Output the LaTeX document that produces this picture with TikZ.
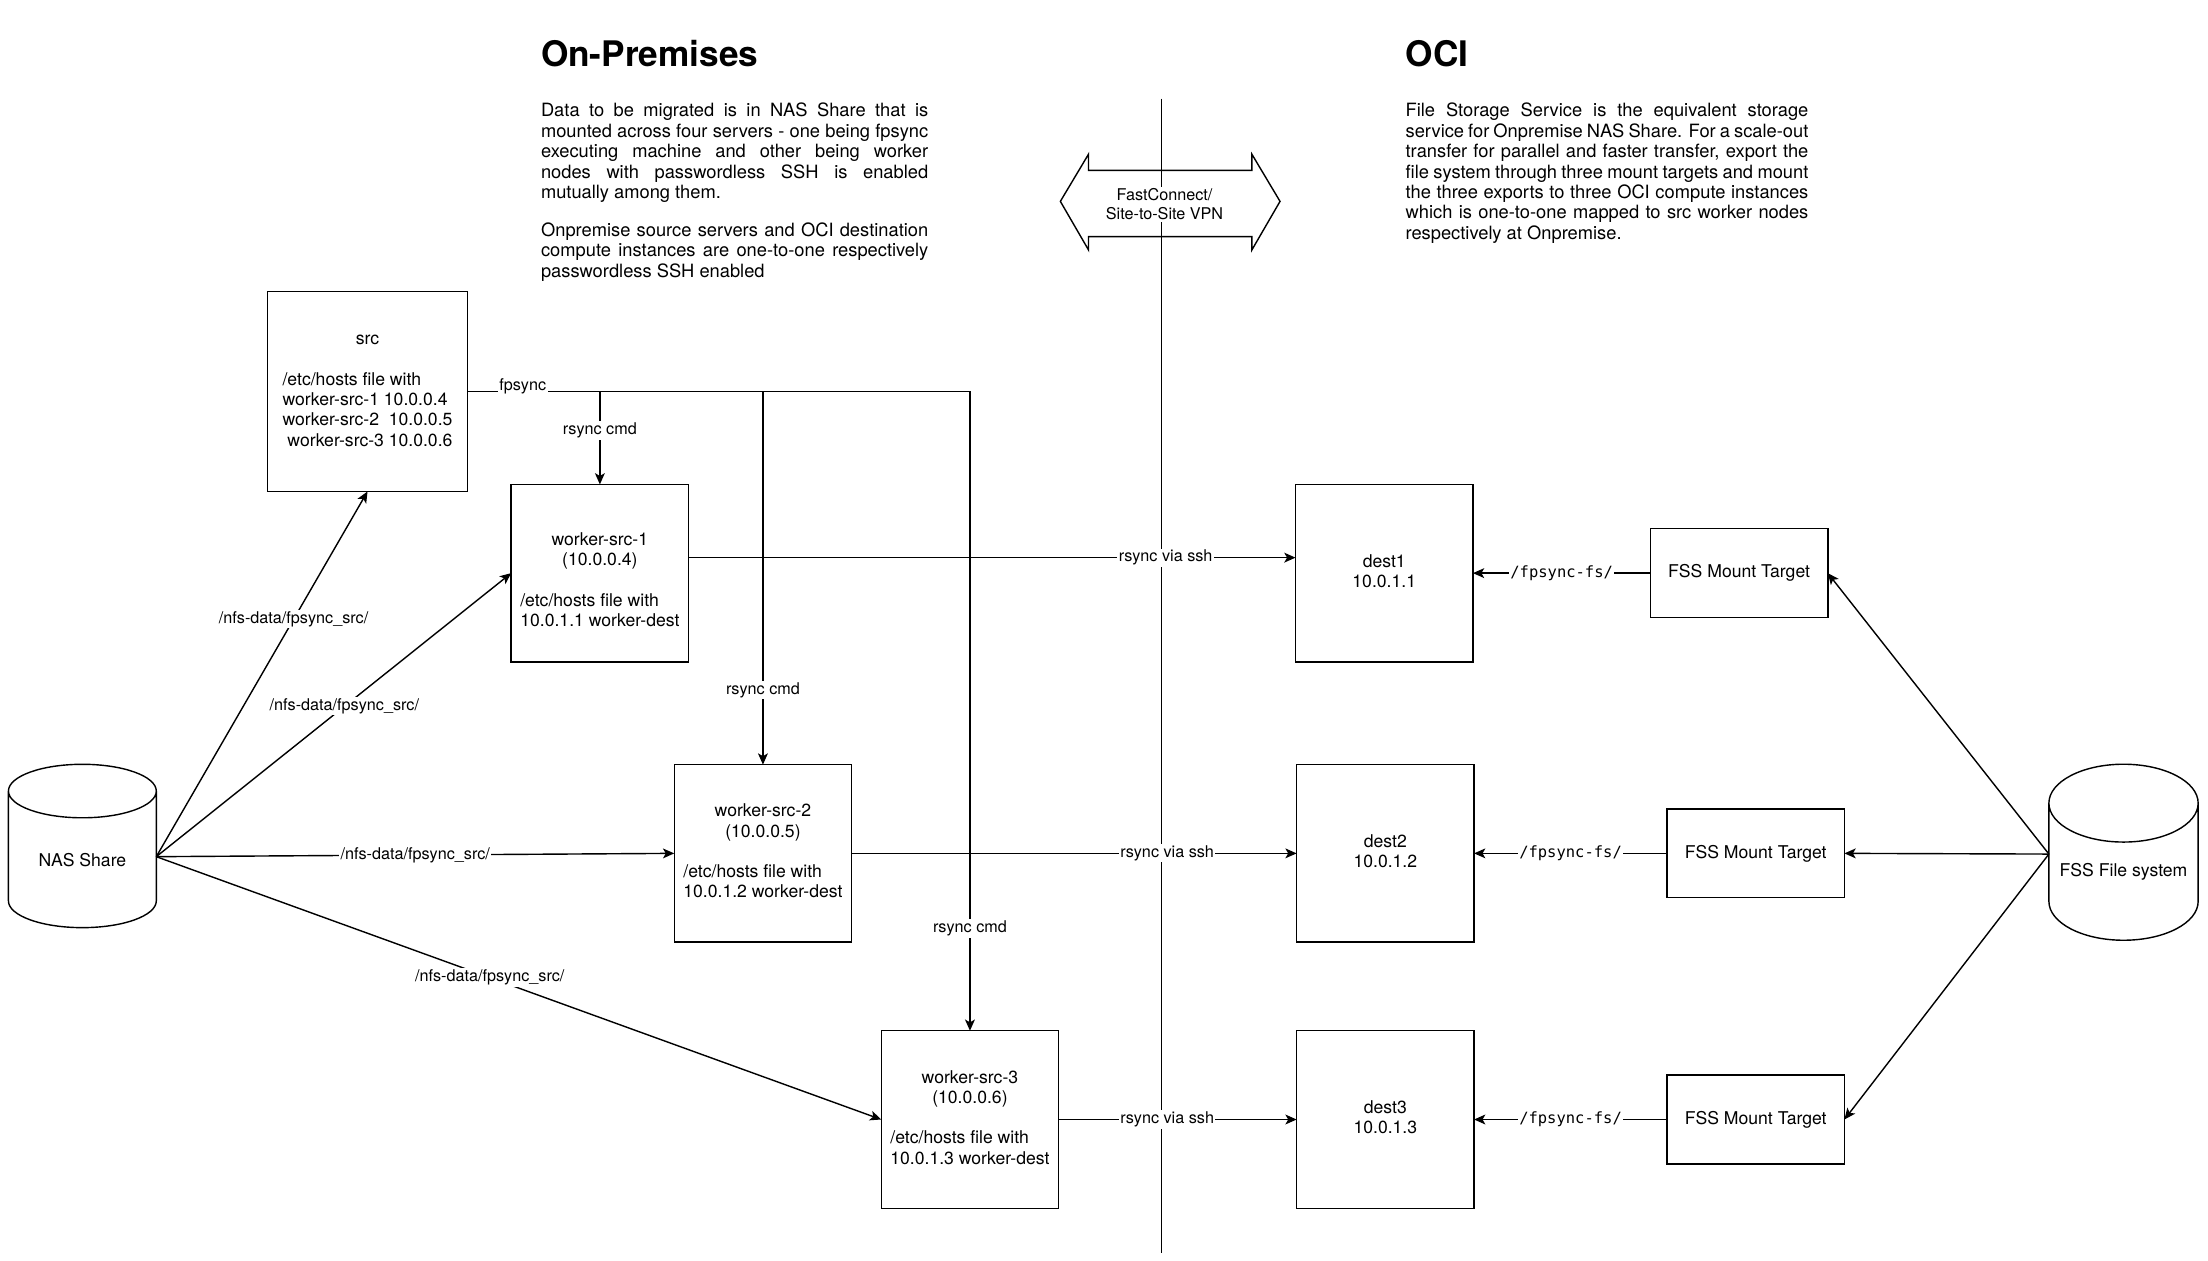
\documentclass[tikz,border=0pt]{standalone}
\usepackage{fontspec}
\setmainfont{TeX Gyre Heros}
\setmonofont{DejaVu Sans Mono}
\usepackage{tikz}
\usetikzlibrary{arrows.meta}
\usetikzlibrary{positioning}
\usetikzlibrary{shapes.geometric}
\tikzset{
    block/.style={
           rectangle,
           draw=black, line width=1pt,
           inner sep=0pt, outer sep=0pt,
           text centered,
           font=\fontsize{12.5}{14.4}\selectfont,
           },
     host/.style={
           block,
           minimum width=126pt,
           minimum height=126pt,
           },
     mount/.style={
           block,
           minimum width=126pt,
           minimum height=63pt,
           },
     store/.style={
           cylinder,
           shape border rotate=90,
           aspect=0.61,
           draw=black, line width=1pt,
           minimum width=105pt,
           minimum height=116pt,
           inner sep=0pt, outer sep=0pt,
           anchor=shape center,
           font=\fontsize{12.5}{14.4}\selectfont,
           },
     frameless/.style={
           fill=white,
           inner sep=1pt,
           font=\fontsize{11.5}{13.8}\selectfont,
           },
     headline/.style={
           anchor=west,
           inner sep=0pt,
           font=\fontsize{25}{29}\selectfont\bfseries,
           },
     note/.style={
           anchor=north west,
           inner sep=0pt,
           align=justify,
           font=\fontsize{13}{14.5}\selectfont,
           },
     link/.style={
           line width=1pt,
           -{Stealth[length=8pt, width=7pt, inset=2pt]},
           },
}

\begin{document}
\begin{tikzpicture}[x=1pt, y=-1pt]
	\useasboundingbox (0,0) rectangle (1568,895);

	%headings
	\node[headline] (hprem) at (384,38) {On-Premises};
	\node[headline] (hoci) at (998,38) {OCI};
	\node[note, text width=275pt] (tprem) at (384,73) {Data to be migrated is in NAS Share that is\linebreak
		mounted across four servers - one being fpsync\linebreak
		executing machine and other being worker\linebreak
		nodes with passwordless SSH is enabled\linebreak
		mutually among them.\par\vspace{12.5pt}
		Onpremise source servers and OCI destination\linebreak
		compute instances are one-to-one respectively\linebreak
		passwordless SSH enabled};
	\node[note, text width=286pt] (toci) at (998,73) {File Storage Service is the equivalent storage\linebreak
		service for Onpremise NAS Share. For a scale-out\linebreak
		transfer for parallel and faster transfer, export the\linebreak
		file system through three mount targets and mount\linebreak
		the three exports to three OCI compute instances\linebreak
		which is one-to-one mapped to src worker nodes\linebreak
		respectively at Onpremise.};

	%divider and link
	\draw[line width=1pt] (825,70) -- (825,890);
	\draw[line width=1pt] (753,143) -- (773,109.5) -- (773,121) -- (889,121) -- (889,109.5)
		-- (909,143) -- (889,177.5) -- (889,168) -- (773,168) -- (773,177.5) -- cycle;
	\node[frameless, align=center, font=\fontsize{11.5}{14}\selectfont] (vpn) at (827,145) {FastConnect/\\Site-to-Site VPN};

	%on-premises column
	\node[store] (nas) at (58.5,600.75) {NAS Share};
	\node[block, minimum width=142pt, minimum height=142pt] (src) at (261,278) {\begin{tabular}{@{}l@{}}
			\multicolumn{1}{@{}c@{}}{src}\\
			\\
			/etc/hosts file with\\
			worker-src-1 10.0.0.4\\
			worker-src-2\ \ 10.0.0.5\\
			\ worker-src-3 10.0.0.6
		\end{tabular}};
	\node[host] (w1) at (426,407) {\begin{tabular}{@{}l@{}}
			\\[-1.5pt]
			\multicolumn{1}{@{}c@{}}{worker-src-1}\\
			\multicolumn{1}{@{}c@{}}{(10.0.0.4)}\\
			\\
			/etc/hosts file with\\
			10.0.1.1 worker-dest
		\end{tabular}};
	\node[host] (w2) at (541.8,606) {\begin{tabular}{@{}l@{}}
			\multicolumn{1}{@{}c@{}}{worker-src-2}\\
			\multicolumn{1}{@{}c@{}}{(10.0.0.5)}\\
			\\
			/etc/hosts file with\\
			10.0.1.2 worker-dest
		\end{tabular}};
	\node[host] (w3) at (688.8,795) {\begin{tabular}{@{}l@{}}
			\multicolumn{1}{@{}c@{}}{worker-src-3}\\
			\multicolumn{1}{@{}c@{}}{(10.0.0.6)}\\
			\\
			/etc/hosts file with\\
			10.0.1.3 worker-dest
		\end{tabular}};

	%oci column
	\node[host, right=431pt of w1] (dest1) {\begin{tabular}{@{}c@{}}dest1\\10.0.1.1\end{tabular}};
	\node[host, right=316pt of w2] (dest2) {\begin{tabular}{@{}c@{}}dest2\\10.0.1.2\end{tabular}};
	\node[host, right=169pt of w3] (dest3) {\begin{tabular}{@{}c@{}}dest3\\10.0.1.3\end{tabular}};
	\node[mount, right=126pt of dest1] (mt1) {FSS Mount Target};
	\node[mount, right=137pt of dest2] (mt2) {FSS Mount Target};
	\node[mount, right=137pt of dest3] (mt3) {FSS Mount Target};
	\node[store, minimum width=106pt, minimum height=125pt] (fss) at (1508,605.2) {FSS File system};

	%EDGES

	\draw[link] (src.east) -| node[frameless, pos=0.055, yshift=4pt] {fpsync}
		node[frameless, pos=0.92] {rsync cmd} (w3.north);
	\path[link]	(src.east -| w1.north) edge node[frameless, pos=0.42] {rsync cmd} (w1.north)
			(src.east -| w2.north) edge node[frameless, pos=0.8] {rsync cmd} (w2.north);

	\coordinate (nasout) at ([xshift=52.5pt, yshift=-7.6pt]nas.shape center);
	\path[link]	(nasout) edge node[frameless, pos=0.65] {/nfs-data/fpsync\_src/} (src.south)
			(nasout) edge node[frameless, pos=0.53] {/nfs-data/fpsync\_src/} (w1.west)
			(nasout) edge node[frameless, pos=0.5] {/nfs-data/fpsync\_src/} (w2.west)
			(nasout) edge node[frameless, pos=0.46] {/nfs-data/fpsync\_src/} (w3.west);

	\path[link]	([yshift=11pt]w1.east) edge node[frameless, pos=0.786] {rsync via ssh} ([yshift=11pt]dest1.west)
			(w2.east) edge node[frameless, pos=0.709] {rsync via ssh} (dest2.west)
			(w3.east) edge node[frameless, pos=0.456] {rsync via ssh} (dest3.west);

	\path[link]	(mt1.west) edge node[frameless, font=\ttfamily\fontsize{11}{13}\selectfont] {/fpsync-fs/} (dest1.east)
			(mt2.west) edge node[frameless, font=\ttfamily\fontsize{11}{13}\selectfont] {/fpsync-fs/} (dest2.east)
			(mt3.west) edge node[frameless, font=\ttfamily\fontsize{11}{13}\selectfont] {/fpsync-fs/} (dest3.east);

	\coordinate (fssin) at ([xshift=-53pt, yshift=-1.3pt]fss.shape center);
	\path[link]	(fssin) edge (mt1.east)
			(fssin) edge (mt2.east)
			(fssin) edge (mt3.east);

\end{tikzpicture}
\end{document}
